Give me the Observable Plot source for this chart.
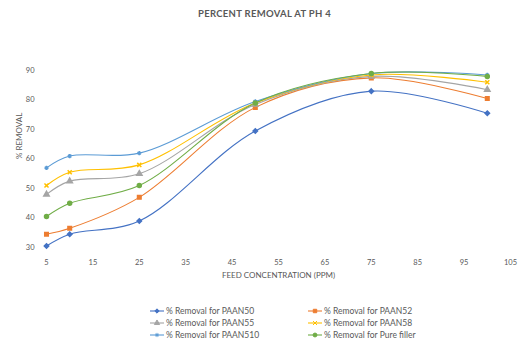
<!DOCTYPE html>
<html>
<head>
<meta charset="utf-8">
<script src="https://cdn.jsdelivr.net/npm/d3@7"></script>
<script src="https://cdn.jsdelivr.net/npm/@observablehq/plot@0.6"></script>
<style>
  html, body { margin: 0; padding: 0; background: #fff; }
  #wrap { position: relative; width: 529px; height: 353px; font-family: Lato, "Open Sans", sans-serif; color: #595959; overflow: hidden; }
  #title { position: absolute; top: 8px; left: 0; width: 529px; text-align: center; font-size: 9.5px; font-weight: bold; letter-spacing: 0.3px; }
  #chart { position: absolute; top: 0; left: 0; }
  #legend { position: absolute; top: 305px; left: 150px; display: grid; grid-template-columns: 158px 160px; row-gap: 1px; font-size: 8.5px; }
  .item { display: flex; align-items: center; height: 11px; white-space: nowrap; }
  .item svg { margin-right: 2px; }
</style>
</head>
<body>
<div id="wrap">
  <div id="chart"></div>
  <div id="title">PERCENT REMOVAL AT PH 4</div>
  <div id="legend"></div>
</div>
<script>
// Feed concentration (ppm)
const concentrations = [5, 10, 25, 50, 75, 100];
// % removal per adsorbent
const paan50 = [30.5, 34.5, 39, 69.5, 83, 75.5];
const paan52 = [34.5, 36.5, 47, 77.5, 87.5, 80.5];
const paan55 = [48, 52.5, 55, 78.5, 88, 83.5];
const paan58 = [51, 55.5, 58, 79, 88.5, 86];
const paan510 = [57, 61, 62, 79.5, 89, 88.5];
const pureFiller = [40.5, 45, 51, 79, 89, 88];

const seriesNames = ["% Removal for PAAN50", "% Removal for PAAN52", "% Removal for PAAN55",
  "% Removal for PAAN58", "% Removal for PAAN510", "% Removal for Pure filler"];
const seriesValues = [paan50, paan52, paan55, paan58, paan510, pureFiller];
const seriesColors = ["#4472C4", "#ED7D31", "#A5A5A5", "#FFC000", "#5B9BD5", "#70AD47"];
const seriesSymbols = ["diamond2", "square", "triangle", "times", "asterisk", "circle"];

const xTicks = [5, 15, 25, 35, 45, 55, 65, 75, 85, 95, 105];
const yTicks = [30, 40, 50, 60, 70, 80, 90];

const rows = [];
seriesNames.forEach((name, i) => {
  concentrations.forEach((c, j) => rows.push({series: name, x: c, y: seriesValues[i][j]}));
});

const chart = Plot.plot({
  width: 529,
  height: 290,
  marginLeft: 46,
  marginRight: 19,
  marginTop: 70,
  marginBottom: 43,
  style: {fontFamily: "Lato, 'Open Sans', sans-serif", fontSize: "7.5px", color: "#595959", background: "transparent"},
  x: {domain: [5, 105], label: null},
  y: {domain: [30, 90], label: null},
  color: {domain: seriesNames, range: seriesColors},
  symbol: {domain: seriesNames, range: seriesSymbols},
  marks: [
    Plot.axisX({ticks: xTicks, tickSize: 0, tickPadding: 12, tickFormat: d => d}),
    Plot.axisY({ticks: yTicks, tickSize: 0, tickPadding: 12, tickFormat: d => d}),
    Plot.text(["FEED CONCENTRATION (PPM)"], {frameAnchor: "bottom", dy: 30, fontSize: 8, fill: "#595959"}),
    Plot.text(["% REMOVAL"], {frameAnchor: "left", dx: -27, rotate: -90, fontSize: 8, fill: "#595959"}),
    Plot.line(rows, {x: "x", y: "y", z: "series", stroke: "series", strokeWidth: 1.1, curve: "catmull-rom"}),
    Plot.dot(rows, {x: "x", y: "y", symbol: "series", stroke: "series", fill: "series", r: 2})
  ]
});
document.getElementById("chart").appendChild(chart);

const d3Symbols = {diamond2: d3.symbolDiamond2, square: d3.symbolSquare, triangle: d3.symbolTriangle,
  times: d3.symbolTimes, asterisk: d3.symbolAsterisk, circle: d3.symbolCircle};
const legend = document.getElementById("legend");
seriesNames.forEach((name, i) => {
  const item = document.createElement("div");
  item.className = "item";
  const sw = d3.create("svg").attr("width", 14).attr("height", 8);
  sw.append("line").attr("x1", 0).attr("x2", 14).attr("y1", 4).attr("y2", 4)
    .attr("stroke", seriesColors[i]).attr("stroke-width", 1.1);
  sw.append("path").attr("transform", "translate(7,4)")
    .attr("d", d3.symbol(d3Symbols[seriesSymbols[i]], 12)())
    .attr("fill", seriesColors[i]).attr("stroke", seriesColors[i]);
  item.appendChild(sw.node());
  const t = document.createElement("span");
  t.textContent = name;
  item.appendChild(t);
  legend.appendChild(item);
});
</script>
</body>
</html>
